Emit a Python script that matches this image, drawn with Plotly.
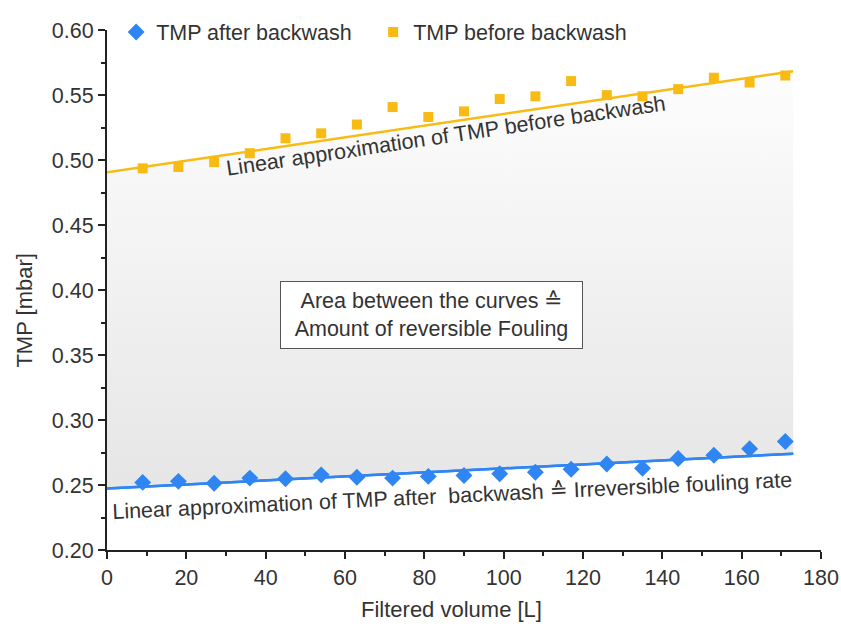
import plotly.graph_objects as go

# ---- data ----
volume = [9, 18, 27, 36, 45, 54, 63, 72, 81, 90, 99, 108, 117, 126, 135, 144, 153, 162, 171]
tmp_after = [0.2520, 0.2528, 0.2513, 0.2553, 0.2548, 0.2578, 0.2560, 0.2553, 0.2566, 0.2573,
             0.2586, 0.2598, 0.2621, 0.2661, 0.2628, 0.2704, 0.2729, 0.2779, 0.2835]
tmp_before = [0.4936, 0.4946, 0.4984, 0.5052, 0.5167, 0.5205, 0.5273, 0.5407, 0.5331, 0.5374,
              0.5469, 0.5490, 0.5607, 0.5499, 0.5490, 0.5545, 0.5633, 0.5596, 0.5650]
fit_x = [0, 173]
fit_after = [0.2473, 0.2741]
fit_before = [0.4905, 0.5683]

BLUE = "#2f86f2"
YELLOW = "#f8bb14"
TXT = "#333333"
FONT = "Liberation Sans, Arial, sans-serif"
FS = 21.5

fig = go.Figure()

# linear approximation lines + gradient area between them
fig.add_trace(go.Scatter(x=fit_x, y=fit_after, mode="lines",
                         line=dict(color=BLUE, width=2.5), showlegend=False, hoverinfo="skip"))
fig.add_trace(go.Scatter(x=fit_x, y=fit_before, mode="lines", fill="tonexty",
                         fillgradient=dict(type="vertical",
                                           colorscale=[[0, "#e6e6e6"], [1, "#fdfdfd"]]),
                         line=dict(color=YELLOW, width=2.5), showlegend=False, hoverinfo="skip"))
fig.add_trace(go.Scatter(x=fit_x, y=fit_after, mode="lines",
                         line=dict(color=BLUE, width=2.5), showlegend=False, hoverinfo="skip"))

# measured points
fig.add_trace(go.Scatter(x=volume, y=tmp_after, mode="markers", name="TMP after backwash",
                         marker=dict(symbol="diamond", size=13, color=BLUE)))
fig.add_trace(go.Scatter(x=volume, y=tmp_before, mode="markers", name="TMP before backwash",
                         marker=dict(symbol="square", size=10, color=YELLOW)))

fig.add_annotation(x=85.5, y=0.5186, xref="x", yref="y",
                   text="Linear approximation of TMP before backwash",
                   textangle=-8.5, showarrow=False, font=dict(size=FS, color=TXT, family=FONT))
fig.add_annotation(x=87, y=0.2413, xref="x", yref="y",
                   text="Linear approximation of TMP after  backwash \u2259 Irreversible fouling rate",
                   textangle=-2.7, showarrow=False, font=dict(size=FS, color=TXT, family=FONT))
fig.add_annotation(x=81.7, y=0.3806, xref="x", yref="y",
                   text="Area between the curves \u2259<br>Amount of reversible Fouling",
                   showarrow=False, font=dict(size=FS, color=TXT, family=FONT),
                   bgcolor="white", bordercolor="#555555", borderwidth=1, borderpad=5,
                   width=291, height=56)

# axis titles
fig.add_annotation(x=-0.1148, y=0.4604, xref="paper", yref="paper", text="TMP [mbar]",
                   textangle=-90, showarrow=False, xanchor="center", yanchor="middle",
                   font=dict(size=22, color=TXT, family=FONT))
fig.add_annotation(x=0.4825, y=-0.1150, xref="paper", yref="paper", text="Filtered volume [L]",
                   showarrow=False, xanchor="center", yanchor="middle",
                   font=dict(size=22, color=TXT, family=FONT))

axis_common = dict(showline=True, linecolor="#222222", linewidth=2, ticks="outside",
                   ticklen=7, tickwidth=2, tickcolor="#222222", showgrid=False, zeroline=False,
                   tickfont=dict(size=FS, color=TXT, family=FONT), mirror=False, automargin=False)

fig.update_xaxes(range=[0, 180], dtick=20, tick0=0,
                 minor=dict(ticks="outside", ticklen=4, tickwidth=2, tickcolor="#222222", dtick=10),
                 **axis_common)
fig.update_yaxes(range=[0.20, 0.60], dtick=0.05, tick0=0.2, tickformat=".2f",
                 minor=dict(ticks="outside", ticklen=4, tickwidth=2, tickcolor="#222222", dtick=0.025),
                 **axis_common)

fig.update_layout(
    width=841, height=627,
    margin=dict(l=107, r=20, t=20, b=77),
    paper_bgcolor="white", plot_bgcolor="white",
    font=dict(family=FONT, color=TXT, size=FS),
    legend=dict(orientation="h", x=0.0128, y=0.996, xanchor="left", yanchor="middle",
                traceorder="normal",
                bgcolor="rgba(0,0,0,0)", font=dict(size=FS, color=TXT, family=FONT),
                itemwidth=30, entrywidth=212, entrywidthmode="pixels"),
)

fig.write_html("out.html")
